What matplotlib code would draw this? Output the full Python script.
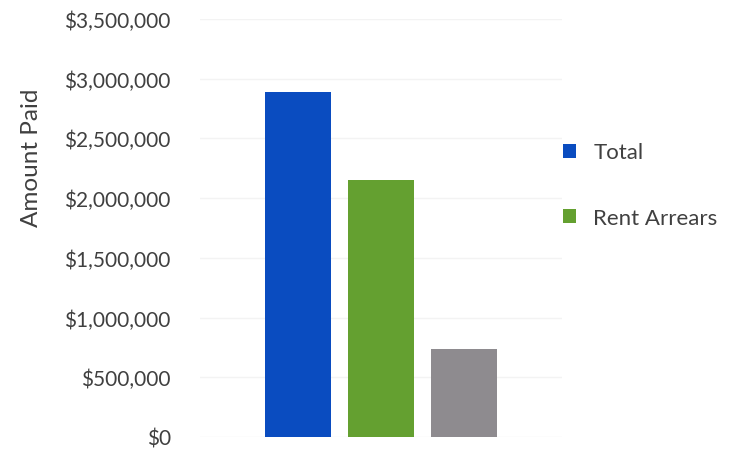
import matplotlib.pyplot as plt
import matplotlib.patches as patches
from matplotlib.ticker import FuncFormatter

# valores
series = ['Total', 'Rent Arrears', 'Other']
valores = [2890000, 2155000, 740000]
cores = ['#0A4CC0', '#64A030', '#8E8B8F']
ticks = [0, 500000, 1000000, 1500000, 2000000, 2500000, 3000000, 3500000]

plt.rcParams['font.family'] = ['Lato', 'DejaVu Sans']

fig = plt.figure(figsize=(7.32, 4.52), dpi=100)
ax = fig.add_axes([0.273, 0.031, 0.495, 0.925])

for i, (nome, v, c) in enumerate(zip(series, valores, cores)):
    ax.bar(i, v, width=0.8, color=c, label=nome, zorder=3)

ax.set_ylim(0, 3500000)
ax.set_xlim(-1.18, 3.18)
ax.set_yticks(ticks)
ax.yaxis.set_major_formatter(FuncFormatter(lambda v, p: '${:,.0f}'.format(v)))
ax.tick_params(axis='y', length=0, pad=21, labelsize=15, labelcolor='#404040')
ax.set_xticks([])
ax.grid(axis='y', color='#f3f3f3', linewidth=1, zorder=0)
for s in ax.spines.values():
    s.set_visible(False)

ax.set_ylabel('Amount Paid', fontsize=17.5, color='#404040')
ax.yaxis.set_label_coords(-0.435, 0.67)

# legenda so com as duas primeiras series
hs, ls = ax.get_legend_handles_labels()
fig.legend(hs[:2], ls[:2], loc='upper left', bbox_to_anchor=(0.742, 0.727),
           frameon=False, fontsize=16, labelspacing=2.05, handlelength=0.6,
           handleheight=0.6, handletextpad=0.75, labelcolor='#404040')

fig.savefig('out.png', dpi=100)
